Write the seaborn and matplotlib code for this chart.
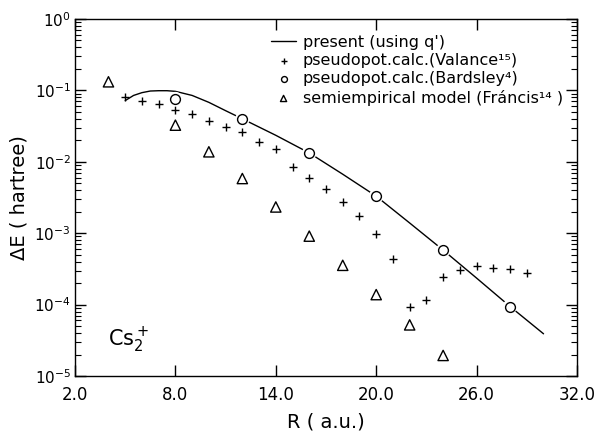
import numpy as np
import pandas as pd
import matplotlib
matplotlib.use("Agg")
import matplotlib.pyplot as plt
import seaborn as sns
from matplotlib.ticker import LogLocator, FixedLocator, NullFormatter

# ---- data ----
present_R = [5.0, 5.5, 6.0, 6.5, 7.0, 7.5, 8.0, 9.0, 10.0, 11.0, 12.0, 14.0, 16.0,
             18.0, 20.0, 22.0, 24.0, 26.0, 28.0, 30.0]
present_dE = [0.072, 0.085, 0.093, 0.098, 0.099, 0.099, 0.097, 0.085, 0.068, 0.052,
              0.040, 0.0235, 0.0133, 0.0067, 0.0033, 0.00139, 0.00058, 0.000235,
              0.000094, 0.000039]

valance_R = [5, 6, 7, 8, 9, 10, 11, 12, 13, 14, 15, 16, 17, 18, 19, 20, 21, 22, 23,
             24, 25, 26, 27, 28, 29]
valance_dE = [0.080, 0.0715, 0.0635, 0.054, 0.0465, 0.037, 0.031, 0.0258, 0.019,
              0.0149, 0.0085, 0.0060, 0.0041, 0.00274, 0.00173, 0.00099, 0.00044,
              0.000092, 0.000115, 0.000243, 0.000309, 0.000343, 0.000329,
              0.000312, 0.000277]

bardsley_R = [8, 12, 16, 20, 24, 28]
bardsley_dE = [0.0755, 0.0396, 0.0133, 0.0033, 0.000575, 0.000094]

francis_R = [4, 8, 10, 12, 14, 16, 18, 20, 22, 24]
francis_dE = [0.132, 0.0326, 0.0138, 0.00583, 0.00233, 0.00091, 0.000355,
              0.000138, 0.000052, 0.0000194]

x_ticks = [2.0, 8.0, 14.0, 20.0, 26.0, 32.0]
x_ticklabels = ["2.0", "8.0", "14.0", "20.0", "26.0", "32.0"]

labels = ["present (using q')",
          "pseudopot.calc.(Valance¹⁵)",
          "pseudopot.calc.(Bardsley⁴)",
          "semiempirical model (Fráncis¹⁴ )"]

# ---- plot ----
sns.set_style("ticks")
plt.rcParams['font.family'] = ['DejaVu Sans']
plt.rcParams['mathtext.default'] = 'regular'
for k in ['text.color', 'axes.labelcolor', 'xtick.color', 'ytick.color',
          'axes.edgecolor']:
    plt.rcParams[k] = 'black'

fig = plt.figure(figsize=(5.97, 4.33), dpi=100)
ax = fig.add_axes([75 / 597, 1 - 376 / 433, (577 - 75) / 597, (376 - 19) / 433])

df_p = pd.DataFrame({"R": present_R, "dE": present_dE})
df_v = pd.DataFrame({"R": valance_R, "dE": valance_dE})
df_b = pd.DataFrame({"R": bardsley_R, "dE": bardsley_dE})
df_f = pd.DataFrame({"R": francis_R, "dE": francis_dE})

sns.lineplot(data=df_p, x="R", y="dE", ax=ax, color="black", lw=1.0,
             label=labels[0], zorder=2)
sns.scatterplot(data=df_v, x="R", y="dE", ax=ax, marker="+", s=40, color="black",
                linewidth=1.0, label=labels[1], zorder=3)
# white halo behind circles to break the line
sns.scatterplot(data=df_b, x="R", y="dE", ax=ax, marker="o", s=110, color="white",
                edgecolor="none", linewidth=0, zorder=3, legend=False)
sns.scatterplot(data=df_b, x="R", y="dE", ax=ax, marker="o", s=50, facecolor="white",
                edgecolor="black", linewidth=1.0, label=labels[2], zorder=4)
sns.scatterplot(data=df_f, x="R", y="dE", ax=ax, marker="^", s=55, facecolor="none",
                edgecolor="black", linewidth=1.0, label=labels[3], zorder=4)

ax.set_yscale("log")
ax.set_xlim(2.0, 32.0)
ax.set_ylim(1e-5, 1.0)
ax.xaxis.set_major_locator(FixedLocator(x_ticks))
ax.set_xticklabels(x_ticklabels)
ax.yaxis.set_major_locator(LogLocator(base=10, numticks=10))
ax.yaxis.set_minor_locator(LogLocator(base=10, subs=np.arange(2, 10), numticks=20))
ax.yaxis.set_minor_formatter(NullFormatter())

ax.tick_params(axis="both", which="major", direction="in", top=True, right=True,
               length=8, width=1.0, colors="black")
ax.tick_params(axis="x", which="major", labelsize=12, pad=7)
ax.tick_params(axis="y", which="major", labelsize=11, pad=3)
ax.tick_params(axis="y", which="minor", direction="in", left=True, right=True,
               length=4, width=0.8)
for s in ax.spines.values():
    s.set_color("black")
    s.set_linewidth(1.0)

ax.set_xlabel("R ( a.u.)", fontsize=14, labelpad=6)
ax.set_ylabel("ΔE ( hartree)", fontsize=14, labelpad=4)

ax.text(4.0, 3.2e-5, "Cs$_2^+$", fontsize=15, ha="left", va="center")

leg = ax.legend(loc="upper left", bbox_to_anchor=(0.39, 0.955), frameon=False,
                fontsize=11.5, handlelength=1.6, handletextpad=0.4,
                labelspacing=0.2, borderaxespad=0, borderpad=0, markerscale=0.6)

fig.savefig("out.png", dpi=100)
